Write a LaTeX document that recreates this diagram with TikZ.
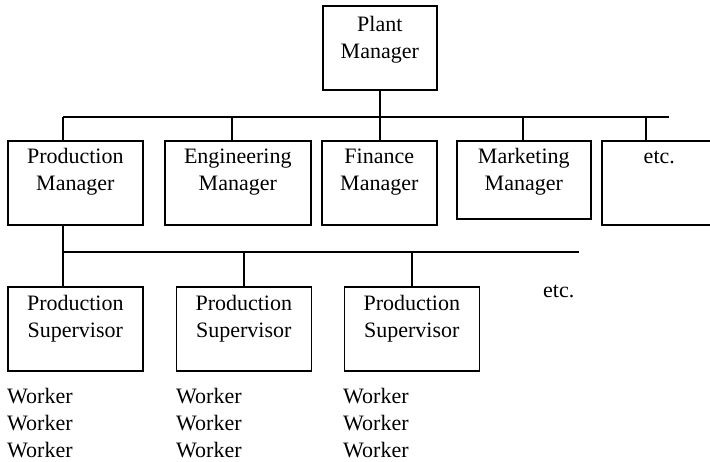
\documentclass[tikz,border=0pt]{standalone}
\usepackage{fontspec}
\setmainfont{Liberation Serif}
\usetikzlibrary{positioning}

\begin{document}
\begin{tikzpicture}[
        x=1pt,y=-1pt,
        every node/.style={font=\fontsize{22}{26.7}\selectfont},
        orgbox/.style={draw,line width=1.6pt,inner sep=0pt,anchor=north west,
                   align=center,text height=23pt,text depth=61pt},
        staff/.style={anchor=base west,inner sep=0pt,align=left},
        link/.style={line width=1.6pt}
    ]
        \useasboundingbox (0,0) rectangle (710,461);
        % top
        \node[orgbox,text width=114pt,text height=26pt,text depth=58pt] (plant) at (322,5) {Plant\\Manager};
        % managers
        \node[orgbox,text width=135pt] (prod) at (7,140) {Production\\Manager};
        \node[orgbox,text width=146pt] (eng) at (164,140) {Engineering\\Manager};
        \node[orgbox,text width=115pt] (fin) at (321,140) {Finance\\Manager};
        \node[orgbox,text width=134pt,text depth=55pt] (mkt) at (456,140) {Marketing\\Manager};
        \node[orgbox,text width=115pt] (etcA) at (601,140) {etc.\hspace*{13pt}};
        % supervisors
        \node[orgbox,text width=135pt,text height=23.5pt,text depth=60.5pt] (sup1) at (7,286) {Production\\Supervisor};
        \node[orgbox,text width=135pt,text height=23.5pt,text depth=60.5pt] (sup2) at (175.5,286) {Production\\Supervisor};
        \node[orgbox,text width=135pt,text height=23.5pt,text depth=60.5pt] (sup3) at (343.5,286) {Production\\Supervisor};
        \node[staff] (etcB) at (543,297) {etc.};
        % workers (base = last line)
        \node[staff] (work1) at (7,457) {Worker\\Worker\\Worker};
        \node[staff] (work2) at (176,457) {Worker\\Worker\\Worker};
        \node[staff] (work3) at (343,457) {Worker\\Worker\\Worker};
        % upper bus
        \coordinate (busL) at (63,117);
        \coordinate (busR) at (669,117);
        \coordinate (dEng) at (232,117);
        \coordinate (dMkt) at (523,117);
        \coordinate (dEtc) at (646,117);
        \draw[link] (busL) -- (busR);
        \draw[link] (plant.south) -- (plant.south |- fin.north);
        \draw[link] (busL) -- (busL |- prod.north);
        \draw[link] (dEng) -- (dEng |- eng.north);
        \draw[link] (dMkt) -- (dMkt |- mkt.north);
        \draw[link] (dEtc) -- (dEtc |- etcA.north);
        % lower bus
        \coordinate (subL) at (63,252);
        \coordinate (subR) at (579,252);
        \draw[link] (busL |- prod.south) -- (busL |- sup1.north);
        \draw[link] (subL) -- (subR);
        \draw[link] (sup2.north) -- (sup2.north |- subL);
        \draw[link] (sup3.north) -- (sup3.north |- subL);
    \end{tikzpicture}
\end{document}
